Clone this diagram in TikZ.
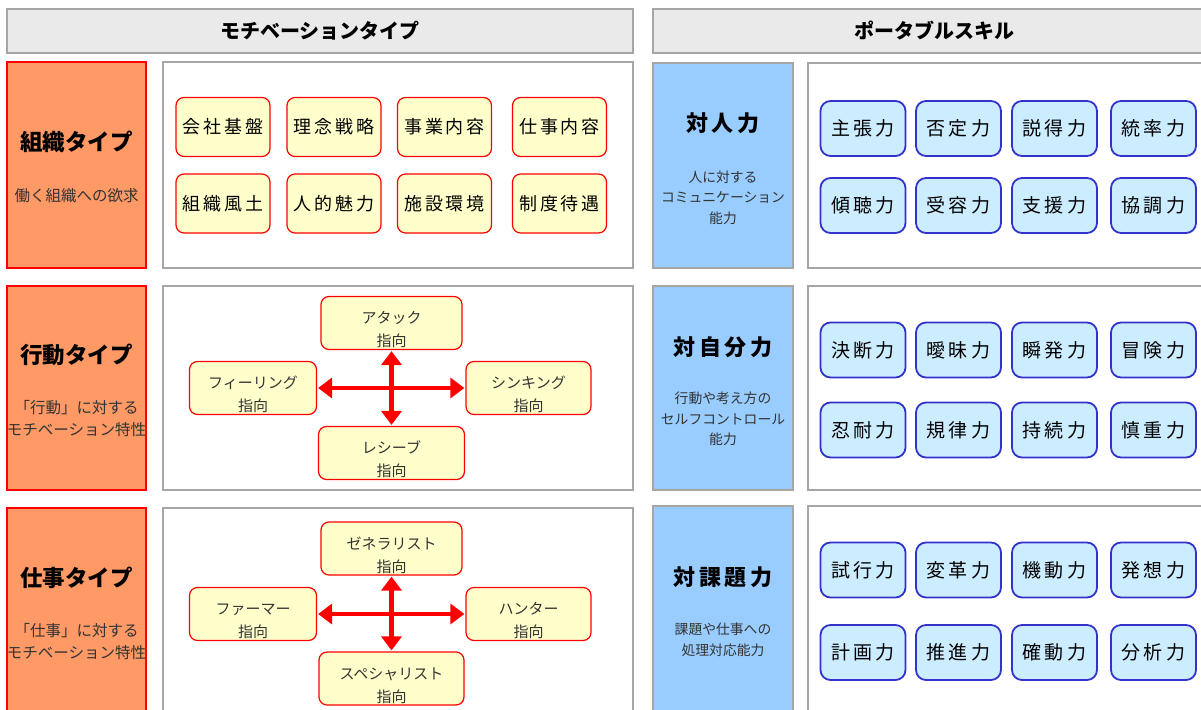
\documentclass[tikz,border=0pt]{standalone}
\usepackage{fontspec}
\newfontfamily\jp{Noto Sans CJK JP}
\newfontfamily\jpwide[LetterSpace=16]{Noto Sans CJK JP}
\usetikzlibrary{arrows.meta}
\definecolor{hdgray}{HTML}{EAEAEA}
\definecolor{frgray}{HTML}{A6A6A6}
\definecolor{motorange}{HTML}{FF9966}
\definecolor{skillblue}{HTML}{99CCFF}
\definecolor{itemyellow}{HTML}{FFFFCC}
\definecolor{skilllight}{HTML}{CCECFF}
\definecolor{skillline}{HTML}{3333CC}
\definecolor{subtext}{HTML}{333333}

\begin{document}
\begin{tikzpicture}[x=1pt, y=-1pt,
    head/.style={draw=frgray, line width=1.5pt, fill=hdgray, minimum height=44pt, inner sep=0pt, font=\jp\bfseries\fontsize{20}{22}\selectfont},
    typebox/.style={draw=red, line width=1.5pt, fill=motorange, minimum width=139pt, inner sep=0pt},
    skillbox/.style={draw=frgray, line width=1.5pt, fill=skillblue, minimum width=140pt, inner sep=0pt},
    panel/.style={draw=frgray, line width=1.5pt, fill=white, inner sep=0pt},
    typetitle/.style={font=\jp\bfseries\fontsize{22.5}{26}\selectfont},
    skilltitle/.style={font=\jpwide\bfseries\fontsize{22}{24}\selectfont},
    typesub/.style={font=\jp\fontsize{15.5}{22}\selectfont, text=subtext, align=center},
    skillsub/.style={font=\jp\fontsize{13.8}{20.5}\selectfont, text=subtext, align=center},
    item/.style={draw=red, line width=1.2pt, fill=itemyellow, rounded corners=8pt, minimum width=94pt, minimum height=59pt, inner sep=0pt, font=\jpwide\fontsize{18}{20}\selectfont},
    skill/.style={draw=skillline, line width=1.8pt, fill=skilllight, rounded corners=10pt, minimum width=85pt, minimum height=55pt, inner sep=0pt, font=\jpwide\fontsize{19}{20}\selectfont},
    dirbox/.style={draw=red, line width=1.2pt, fill=itemyellow, rounded corners=8pt, minimum height=53pt, inner sep=0pt, align=center, text=subtext, font=\jp\fontsize{15}{23}\selectfont, text height=49pt},
    dirarrow/.style={red, line width=4.5pt, {Triangle[length=14pt, width=20pt]}-{Triangle[length=14pt, width=20pt]}, shorten <=1pt, shorten >=1pt}]

  \useasboundingbox (0,0) rectangle (1201,709);

  % headers
  \node[head, minimum width=626pt] (hdmot) at (320,31) {モチベーションタイプ};
  \node[head, minimum width=562pt] (hdport) at (934,31) {ポータブルスキル};

  % motivation types
  \node[typebox, minimum height=206pt] (torg) at (76.5,165) {};
  \node[typebox, minimum height=204pt] (tact) at (76.5,388) {};
  \node[typebox, minimum height=206pt] (twork) at (76.5,611) {};
  \node[typetitle] (torgt) at (76.5,142) {組織タイプ};
  \node[typesub] (torgs) at (76.5,196) {働く組織への欲求};
  \node[typetitle] (tactt) at (76.5,355) {行動タイプ};
  \node[typesub] (tacts) at (76.5,419) {「行動」に対する\\モチベーション特性};
  \node[typetitle] (tworkt) at (76.5,578) {仕事タイプ};
  \node[typesub] (tworks) at (76.5,642) {「仕事」に対する\\モチベーション特性};

  \node[panel, minimum width=470pt, minimum height=206pt] (porg) at (398,165) {};
  \node[panel, minimum width=470pt, minimum height=204pt] (pact) at (398,388) {};
  \node[panel, minimum width=470pt, minimum height=206pt] (pwork) at (398,611) {};

  % organisation items
  \node[item] (org1) at (223,127) {会社基盤};
  \node[item] (org2) at (334,127) {理念戦略};
  \node[item] (org3) at (444.5,127) {事業内容};
  \node[item] (org4) at (559.5,127) {仕事内容};
  \node[item] (org5) at (223,203.5) {組織風土};
  \node[item] (org6) at (334,203.5) {人的魅力};
  \node[item] (org7) at (444.5,203.5) {施設環境};
  \node[item] (org8) at (559.5,203.5) {制度待遇};

  % action directions
  \node[dirbox, minimum width=141pt] (attack) at (391.5,323) {アタック\\指向};
  \node[dirbox, minimum width=127pt] (feel) at (253,388) {フィーリング\\指向};
  \node[dirbox, minimum width=125pt] (think) at (528.5,388) {シンキング\\指向};
  \node[dirbox, minimum width=146pt] (recv) at (391.5,453) {レシーブ\\指向};
  \draw[dirarrow] (attack) -- (recv);
  \draw[dirarrow] (feel) -- (think);

  % work directions
  \node[dirbox, minimum width=141pt] (general) at (391.5,548.5) {ゼネラリスト\\指向};
  \node[dirbox, minimum width=127pt] (farmer) at (253,614) {ファーマー\\指向};
  \node[dirbox, minimum width=125pt] (hunter) at (528.5,614) {ハンター\\指向};
  \node[dirbox, minimum width=145pt] (special) at (391.5,678.5) {スペシャリスト\\指向};
  \draw[dirarrow] (general) -- (special);
  \draw[dirarrow] (farmer) -- (hunter);

  % portable skills
  \node[skillbox, minimum height=205pt] (spers) at (723,165.5) {};
  \node[skillbox, minimum height=204pt] (sself) at (723,388) {};
  \node[skillbox, minimum height=206pt] (stask) at (723,609) {};
  \node[skilltitle] (sperst) at (723,123) {対人力};
  \node[skillsub] (sperss) at (723,197.5) {人に対する\\コミュニケーション\\能力};
  \node[skilltitle] (sselft) at (723,347) {対自分力};
  \node[skillsub] (sselfs) at (723,419) {行動や考え方の\\セルフコントロール\\能力};
  \node[skilltitle] (staskt) at (723,577) {対課題力};
  \node[skillsub] (stasks) at (723,640) {課題や仕事への\\処理対応能力};

  \node[panel, minimum width=407pt, minimum height=205pt] (ppers) at (1011.5,165.5) {};
  \node[panel, minimum width=407pt, minimum height=204pt] (pself) at (1011.5,388) {};
  \node[panel, minimum width=407pt, minimum height=206pt] (ptask) at (1011.5,609) {};

  \node[skill] (pers1) at (863,128.5) {主張力};
  \node[skill] (pers2) at (958.5,128.5) {否定力};
  \node[skill] (pers3) at (1054.5,128.5) {説得力};
  \node[skill] (pers4) at (1153.5,128.5) {統率力};
  \node[skill] (pers5) at (863,205.5) {傾聴力};
  \node[skill] (pers6) at (958.5,205.5) {受容力};
  \node[skill] (pers7) at (1054.5,205.5) {支援力};
  \node[skill] (pers8) at (1153.5,205.5) {協調力};

  \node[skill] (self1) at (863,350) {決断力};
  \node[skill] (self2) at (958.5,350) {曖昧力};
  \node[skill] (self3) at (1054.5,350) {瞬発力};
  \node[skill] (self4) at (1153.5,350) {冒険力};
  \node[skill] (self5) at (863,430) {忍耐力};
  \node[skill] (self6) at (958.5,430) {規律力};
  \node[skill] (self7) at (1054.5,430) {持続力};
  \node[skill] (self8) at (1153.5,430) {慎重力};

  \node[skill] (task1) at (863,570) {試行力};
  \node[skill] (task2) at (958.5,570) {変革力};
  \node[skill] (task3) at (1054.5,570) {機動力};
  \node[skill] (task4) at (1153.5,570) {発想力};
  \node[skill] (task5) at (863,652.5) {計画力};
  \node[skill] (task6) at (958.5,652.5) {推進力};
  \node[skill] (task7) at (1054.5,652.5) {確動力};
  \node[skill] (task8) at (1153.5,652.5) {分析力};
\end{tikzpicture}
\end{document}
